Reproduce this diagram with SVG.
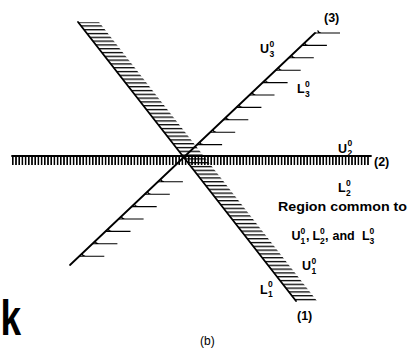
<svg xmlns="http://www.w3.org/2000/svg" xmlns:xlink="http://www.w3.org/1999/xlink" width="408" height="356" viewBox="0 0 408 356">
<style>
.ln{stroke:#000;stroke-width:1.8;fill:none;stroke-linecap:round}
.h3{stroke:#000;stroke-width:1.1;fill:none}
.t{font-family:"Liberation Sans",Arial,sans-serif;font-weight:bold;fill:#000}
.m{font-size:12.5px}
.s{font-size:8.5px}
</style>
<defs>
<pattern id="hh" patternUnits="userSpaceOnUse" x="0" y="21.5" width="10" height="3.8">
<rect x="0" y="0" width="10" height="1.3" fill="#000"/>
</pattern>
<pattern id="vv" patternUnits="userSpaceOnUse" x="12" y="0" width="3.2" height="10">
<rect x="0" y="0" width="1.6" height="10" fill="#000"/>
</pattern>
<g id="hk">
<path class="h3" d="M0,0 h25 M2.7,-2.6 q0.5,2.6 3.6,2.6"/>
</g>
</defs>
<rect width="408" height="356" fill="#fff"/>
<g id="connectors">
<g id="line1">
<polygon points="78,22 99,22 317,301 296,301" fill="url(#hh)"/>
<line class="ln" x1="78" y1="22" x2="296" y2="301"/>
</g>
<g id="line2">
<rect x="12" y="156" width="358" height="9" fill="url(#vv)"/>
<line class="ln" x1="12" y1="156" x2="371" y2="156"/>
</g>
<g id="line3">
<line class="ln" x1="315" y1="33" x2="70" y2="265"/>
<use xlink:href="#hk" x="315" y="33"/>
<use xlink:href="#hk" x="301.9" y="45.4"/>
<use xlink:href="#hk" x="288.8" y="57.8"/>
<use xlink:href="#hk" x="275.7" y="70.2"/>
<use xlink:href="#hk" x="262.6" y="82.6"/>
<use xlink:href="#hk" x="249.5" y="95"/>
<use xlink:href="#hk" x="236.4" y="107.4"/>
<use xlink:href="#hk" x="223.3" y="119.8"/>
<use xlink:href="#hk" x="210.2" y="132.2"/>
<use xlink:href="#hk" x="197.1" y="144.6"/>
<use xlink:href="#hk" x="157.9" y="181.8"/>
<use xlink:href="#hk" x="144.8" y="194.2"/>
<use xlink:href="#hk" x="131.7" y="206.6"/>
<use xlink:href="#hk" x="118.6" y="219"/>
<use xlink:href="#hk" x="105.5" y="231.4"/>
<use xlink:href="#hk" x="92.4" y="243.8"/>
<use xlink:href="#hk" x="79.3" y="256.2"/>
</g>
</g>
<g id="labels" class="t">
<g id="n3"><text class="m" x="324" y="22">(3)</text></g>
<g id="n2"><text class="m" x="374" y="166">(2)</text></g>
<g id="n1"><text class="m" x="297" y="320">(1)</text></g>
<g id="U3"><text class="m" x="260" y="53">U</text><text class="s" x="269.5" y="46.7">0</text><text class="s" x="269.5" y="56.7">3</text></g>
<g id="L3"><text class="m" x="297" y="93">L</text><text class="s" x="305" y="86.7">0</text><text class="s" x="305" y="96.7">3</text></g>
<g id="U2"><text class="m" x="338" y="152.5">U</text><text class="s" x="347.5" y="146.2">0</text><text class="s" x="347.5" y="156.2">2</text></g>
<g id="L2"><text class="m" x="338" y="192">L</text><text class="s" x="346" y="185.7">0</text><text class="s" x="346" y="195.7">2</text></g>
<g id="U1"><text class="m" x="302" y="270">U</text><text class="s" x="311.5" y="263.7">0</text><text class="s" x="311.5" y="273.7">1</text></g>
<g id="L1"><text class="m" x="260" y="293.5">L</text><text class="s" x="268" y="287.2">0</text><text class="s" x="268" y="297.2">1</text></g>
<g id="region">
<text class="m" x="278" y="211" textLength="129" lengthAdjust="spacingAndGlyphs">Region common to</text>
<text class="m" x="291.5" y="240">U</text><text class="s" x="300.5" y="233.7">0</text><text class="s" x="300.5" y="243.7">1</text><text class="m" x="306" y="240">,</text>
<text class="m" x="312.5" y="240">L</text><text class="s" x="320" y="233.7">0</text><text class="s" x="320" y="243.7">2</text><text class="m" x="325" y="240">,</text>
<text class="m" x="332.5" y="240">and</text>
<text class="m" x="362" y="240">L</text><text class="s" x="369.5" y="233.7">0</text><text class="s" x="369.5" y="243.7">3</text>
</g>
<g id="cap"><text x="200" y="344.5" style="font-size:12px;font-weight:normal">(b)</text></g>
<g id="k"><text x="0" y="335" style="font-size:50px" transform="translate(0.5,0) scale(0.74,1)">k</text></g>
</g>
</svg>
